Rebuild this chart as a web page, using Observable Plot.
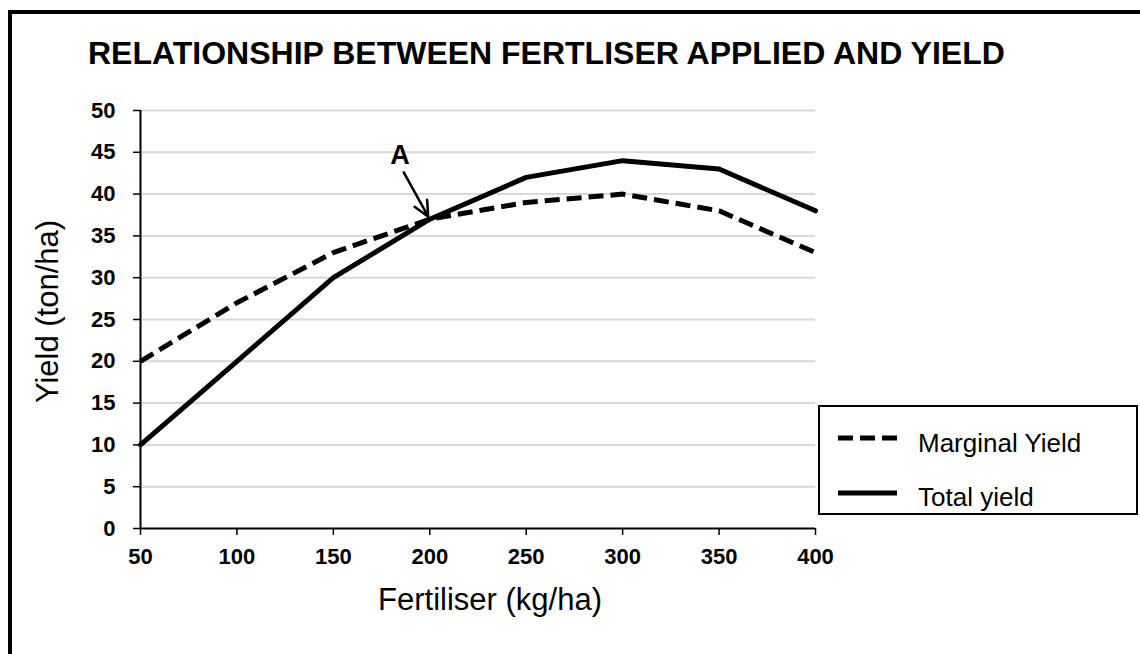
<!DOCTYPE html>
<html>
<head>
<meta charset="utf-8">
<script src="https://cdn.jsdelivr.net/npm/d3@7"></script>
<script src="https://cdn.jsdelivr.net/npm/@observablehq/plot@0.6"></script>
<style>
  html, body { margin: 0; padding: 0; background: #fff; }
  #wrap { position: relative; width: 1140px; height: 654px; overflow: hidden; background: #fff;
          font-family: "Liberation Sans", Arial, Helvetica, sans-serif; }
  #frame { position: absolute; left: 8px; top: 10px; width: 1200px; height: 720px; border: 4px solid #000; box-sizing: border-box; }
  #title { position: absolute; left: 88px; top: 37px; font-size: 32px; line-height: 32px; font-weight: bold; color: #000; white-space: nowrap; }
  #chart { position: absolute; left: 0; top: 0; }
  #legend { position: absolute; left: 818px; top: 405px; width: 320px; height: 110px; border: 2px solid #000; box-sizing: border-box; background: #fff; }
  .leg-text { position: absolute; font-size: 26px; line-height: 26px; color: #000; white-space: nowrap; }
  .leg-svg { position: absolute; left: 0; top: 0; }
</style>
</head>
<body>
<div id="wrap">
  <div id="frame"></div>
  <div id="title"></div>
  <div id="chart"></div>
  <div id="legend"></div>
</div>
<script>
// ---- data ----
const fertiliser = [50, 100, 150, 200, 250, 300, 350, 400];
const marginalYield = [20, 27, 33, 37, 39, 40, 38, 33];
const totalYield = [10, 20, 30, 37, 42, 44, 43, 38];
const seriesNames = ["Marginal Yield", "Total yield"];
const yTicks = [0, 5, 10, 15, 20, 25, 30, 35, 40, 45, 50];
const xTicks = [50, 100, 150, 200, 250, 300, 350, 400];
const titleText = "RELATIONSHIP BETWEEN FERTLISER APPLIED AND YIELD";
const xLabel = "Fertiliser (kg/ha)";
const yLabel = "Yield (ton/ha)";
const annotationLabel = ["A"];
const annotationLabelAt = [184.5, 44.6];
const annotationArrowFrom = [186.5, 42.6];
const annotationArrowTo = [199.2, 37.3];

// ---- build ----
const marginalData = fertiliser.map((f, i) => ({fert: f, value: marginalYield[i]}));
const totalData = fertiliser.map((f, i) => ({fert: f, value: totalYield[i]}));
const DASH = "15,7";
const LINEW = 5;
const font = "'Liberation Sans', Arial, Helvetica, sans-serif";

document.getElementById("title").textContent = titleText;

const chart = Plot.plot({
  width: 1140,
  height: 654,
  marginLeft: 140,
  marginRight: 325,
  marginTop: 110,
  marginBottom: 126,
  style: {fontFamily: font, background: "transparent", color: "#000", overflow: "visible"},
  x: {domain: [50, 400]},
  y: {domain: [0, 50]},
  marks: [
    Plot.ruleY(yTicks.filter(d => d > 0), {stroke: "#d9d9d9", strokeWidth: 2}),
    Plot.line(marginalData, {x: "fert", y: "value", stroke: "#000", strokeWidth: LINEW, strokeDasharray: DASH, strokeLinecap: "butt"}),
    Plot.line(totalData, {x: "fert", y: "value", stroke: "#000", strokeWidth: LINEW}),
    Plot.axisY({ticks: yTicks, tickSize: 7, tickPadding: 18, fontSize: 22, fontWeight: "bold", label: null, stroke: "#000", strokeWidth: 1.5}),
    Plot.axisX({ticks: xTicks, tickSize: 7, tickPadding: 13, fontSize: 22, fontWeight: "bold", label: null, stroke: "#000", strokeWidth: 1.5}),
    Plot.ruleX([50], {stroke: "#000", strokeWidth: 2}),
    Plot.ruleY([0], {stroke: "#000", strokeWidth: 2}),
    Plot.arrow([0], {
      x1: () => annotationArrowFrom[0], y1: () => annotationArrowFrom[1],
      x2: () => annotationArrowTo[0], y2: () => annotationArrowTo[1],
      stroke: "#000", strokeWidth: 2.5, headLength: 14, headAngle: 50
    }),
    Plot.text(annotationLabel, {x: () => annotationLabelAt[0], y: () => annotationLabelAt[1], text: d => d, fontSize: 27, fontWeight: "bold", fill: "#000"}),
    Plot.text([xLabel], {frameAnchor: "bottom", dx: 12, dy: 72, textAnchor: "middle", lineAnchor: "middle", text: d => d, fontSize: 31, fill: "#000"}),
    Plot.text([yLabel], {frameAnchor: "left", dx: -92, dy: -8, rotate: -90, textAnchor: "middle", lineAnchor: "middle", text: d => d, fontSize: 31, fill: "#000"})
  ]
});
document.getElementById("chart").appendChild(chart);

// ---- legend ----
const legend = document.getElementById("legend");
const legendItems = [
  {name: seriesNames[0], dash: DASH, cy: 443 - 405},
  {name: seriesNames[1], dash: null, cy: 497 - 405}
];
const ns = "http://www.w3.org/2000/svg";
const svg = document.createElementNS(ns, "svg");
svg.setAttribute("class", "leg-svg");
svg.setAttribute("width", 316);
svg.setAttribute("height", 106);
legendItems.forEach((it, i) => {
  const ln = document.createElementNS(ns, "line");
  const ly = i === 0 ? 438 - 407 : 493 - 407;
  ln.setAttribute("x1", 838 - 820);
  ln.setAttribute("x2", 897 - 820);
  ln.setAttribute("y1", ly);
  ln.setAttribute("y2", ly);
  ln.setAttribute("stroke", "#000");
  ln.setAttribute("stroke-width", LINEW);
  if (it.dash) ln.setAttribute("stroke-dasharray", it.dash);
  svg.appendChild(ln);
  const t = document.createElement("div");
  t.className = "leg-text";
  t.style.left = (918 - 820) + "px";
  t.style.top = (it.cy - 2 - 12.7) + "px";
  t.textContent = it.name;
  legend.appendChild(t);
});
legend.appendChild(svg);
</script>
</body>
</html>
